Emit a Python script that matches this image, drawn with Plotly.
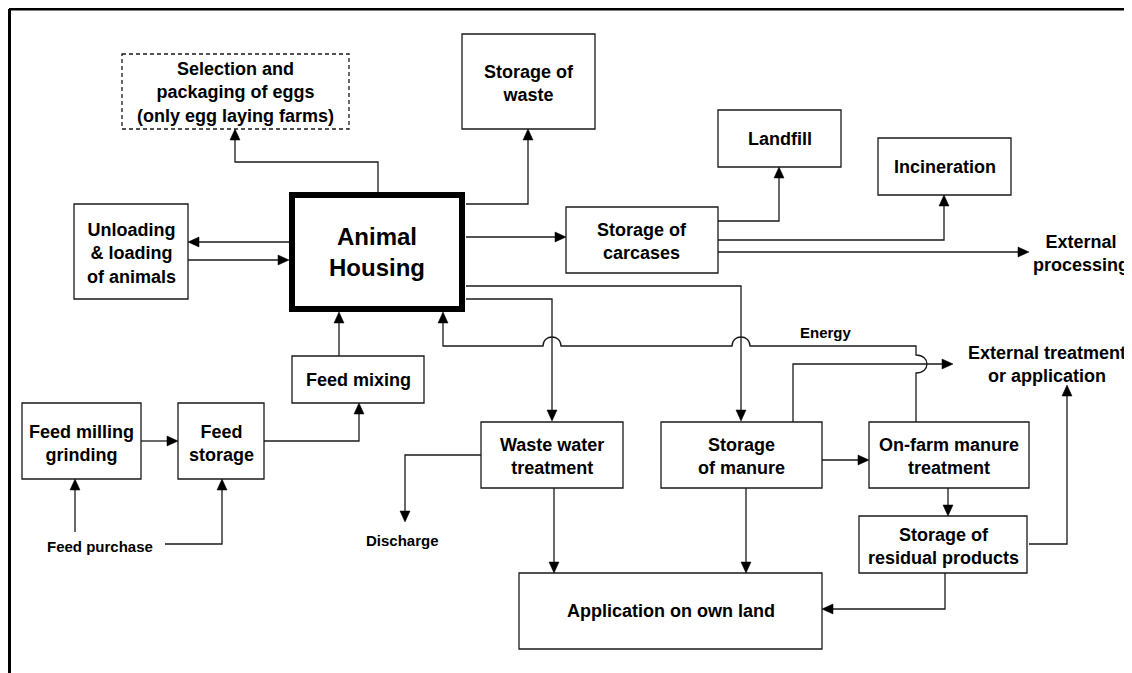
import plotly.graph_objects as go
import math

# ---------------- data ----------------
node_names = ["sel", "waste", "landfill", "incin", "housing", "unload", "carcases",
              "feedmix", "wwt", "manure", "onfarm", "residual", "application",
              "milling", "feedstore"]
node_labels = [
    "Selection and<br>packaging of eggs<br>(only egg laying farms)",
    "Storage of<br>waste",
    "Landfill",
    "Incineration",
    "Animal<br>Housing",
    "Unloading<br>& loading<br>of animals",
    "Storage of<br>carcases",
    "Feed mixing",
    "Waste water<br>treatment",
    "Storage<br>of manure",
    "On-farm manure<br>treatment",
    "Storage of<br>residual products",
    "Application on own land",
    "Feed milling<br>grinding",
    "Feed<br>storage",
]
# geometry (x0, x1, y0, y1) in page pixels
node_boxes = [
    (122, 349, 54, 129), (462, 595, 34, 129), (718, 841, 110, 167),
    (878, 1011, 138, 195), (292, 462, 195, 309), (74, 188, 204, 299),
    (566, 718, 207, 273), (292, 424, 356, 403), (481, 623, 422, 488),
    (661, 822, 422, 488), (869, 1029, 422, 488), (859, 1027, 516, 573),
    (519, 822, 573, 649), (22, 141, 403, 479), (178, 264, 403, 479),
]
node_text_y = [92, 83, 139, 167, 252, 253, 241, 380, 456, 456, 456, 546, 611, 443, 443]
node_font = [18, 18, 18, 18, 24, 18, 18, 18, 18, 18, 18, 18, 18, 18, 18]

free_labels = ["External<br>processing", "External treatment<br>or application",
               "Energy", "Discharge", "Feed purchase"]
free_pos = [(1081, 253), (1047, 364), (826, 332), (402, 540), (100, 546)]
free_font = [18, 18, 15, 15, 15]

edge_routes = [
    [(378, 192), (378, 162), (235, 162), (235, 129)],
    [(466, 204), (528, 204), (528, 129)],
    [(289, 242), (188, 242)],
    [(188, 260), (289, 260)],
    [(466, 237), (566, 237)],
    [(718, 221), (779, 221), (779, 167)],
    [(718, 240), (944, 240), (944, 195)],
    [(718, 252), (1029, 252)],
    [(466, 286), (741, 286), (741, 421)],
    [(466, 299), (552, 299), (552, 421)],
    [(916, 422), (916, 346), (443, 346), (443, 312)],
    [(793, 422), (793, 364), (953, 364)],
    [(822, 460), (869, 460)],
    [(948, 488), (948, 516)],
    [(1029, 544), (1067, 544), (1067, 385)],
    [(945, 573), (945, 609), (822, 609)],
    [(554, 488), (554, 573)],
    [(746, 488), (746, 573)],
    [(481, 455), (405, 455), (405, 522)],
    [(141, 441), (178, 441)],
    [(264, 441), (359, 441), (359, 403)],
    [(339, 356), (339, 312)],
    [(75, 532), (75, 479)],
    [(165, 544), (222, 544), (222, 479)],
]
# jumps: edge index -> list of (segment index, crossing coordinate, bulge sign x, bulge sign y, half width, height)
edge_jumps = {10: [(0, 364, 1, 0, 9, 11), (1, 741, 0, -1, 9, 9), (1, 552, 0, -1, 9, 9)]}

W, H = 1132, 673
OFF = 8  # page body margin of the html page
LINE = "#1a1a1a"

fig = go.Figure()
fig.add_trace(go.Scatter(x=[OFF, W], y=[OFF, H], mode="markers", marker=dict(opacity=0),
                         hoverinfo="skip", showlegend=False))

shapes = []
annotations = []

# frame (top and left edges)
shapes.append(dict(type="line", x0=9, x1=W, y0=9, y1=9, line=dict(color="black", width=3)))
shapes.append(dict(type="line", x0=9.5, x1=9.5, y0=9, y1=H, line=dict(color="black", width=3)))

for name, lab, (x0, x1, y0, y1), ty, fs in zip(node_names, node_labels, node_boxes, node_text_y, node_font):
    if name == "housing":
        ln = dict(color="black", width=6)
    elif name == "sel":
        ln = dict(color=LINE, width=1.3, dash="4px,3px")
    else:
        ln = dict(color=LINE, width=1.3)
    shapes.append(dict(type="rect", x0=x0, x1=x1, y0=y0, y1=y1, line=ln, fillcolor="white"))
    annotations.append(dict(x=(x0 + x1) / 2, y=ty, text="<b>%s</b>" % lab, showarrow=False,
                            xanchor="center", yanchor="middle",
                            font=dict(family="Liberation Sans, Arial", size=fs, color="black")))

for lab, (x, y), fs in zip(free_labels, free_pos, free_font):
    annotations.append(dict(x=x, y=y, text="<b>%s</b>" % lab, showarrow=False,
                            xanchor="center", yanchor="middle",
                            font=dict(family="Liberation Sans, Arial", size=fs, color="black")))


def build_path(pts, jumps):
    d = "M%g,%g" % pts[0]
    for i in range(1, len(pts)):
        (xa, ya), (xb, yb) = pts[i - 1], pts[i]
        L = math.hypot(xb - xa, yb - ya)
        ux, uy = (xb - xa) / L, (yb - ya) / L
        js = [j for j in jumps if j[0] == i - 1]
        horiz = abs(uy) < 1e-9
        pts_j = []
        for (_, c, bx, by, r, h) in js:
            jx, jy = (c, ya) if horiz else (xa, c)
            t = (jx - xa) * ux + (jy - ya) * uy
            pts_j.append((t, jx, jy, bx, by, r, h))
        pts_j.sort()
        for (t, jx, jy, bx, by, r, h) in pts_j:
            sx, sy = jx - ux * r, jy - uy * r
            ex, ey = jx + ux * r, jy + uy * r
            k = h * 1.33
            d += " L%g,%g" % (sx, sy)
            d += " C%g,%g %g,%g %g,%g" % (sx + bx * k, sy + by * k, ex + bx * k, ey + by * k, ex, ey)
        d += " L%g,%g" % (xb, yb)
    return d


AL, AW = 11, 5
for idx, pts in enumerate(edge_routes):
    jumps = edge_jumps.get(idx, [])
    (xa, ya), (xb, yb) = pts[-2], pts[-1]
    Ls = math.hypot(xb - xa, yb - ya)
    ux, uy = (xb - xa) / Ls, (yb - ya) / Ls
    bx, by = xb - ux * AL, yb - uy * AL
    body = list(pts[:-1]) + [(bx + ux * 1, by + uy * 1)]
    shapes.append(dict(type="path", path=build_path(body, jumps),
                       line=dict(color=LINE, width=1.3)))
    px, py = -uy, ux
    tri = "M%g,%g L%g,%g L%g,%g Z" % (xb, yb, bx + px * AW, by + py * AW, bx - px * AW, by - py * AW)
    shapes.append(dict(type="path", path=tri, fillcolor="black", line=dict(color="black", width=0.5)))

fig.update_layout(
    width=W - OFF, height=H - OFF, margin=dict(l=0, r=0, t=0, b=0),
    paper_bgcolor="white", plot_bgcolor="white",
    xaxis=dict(range=[OFF, W], visible=False, fixedrange=True),
    yaxis=dict(range=[H, OFF], visible=False, fixedrange=True),
    shapes=shapes, annotations=annotations, showlegend=False,
)
fig.write_html("out.html")
